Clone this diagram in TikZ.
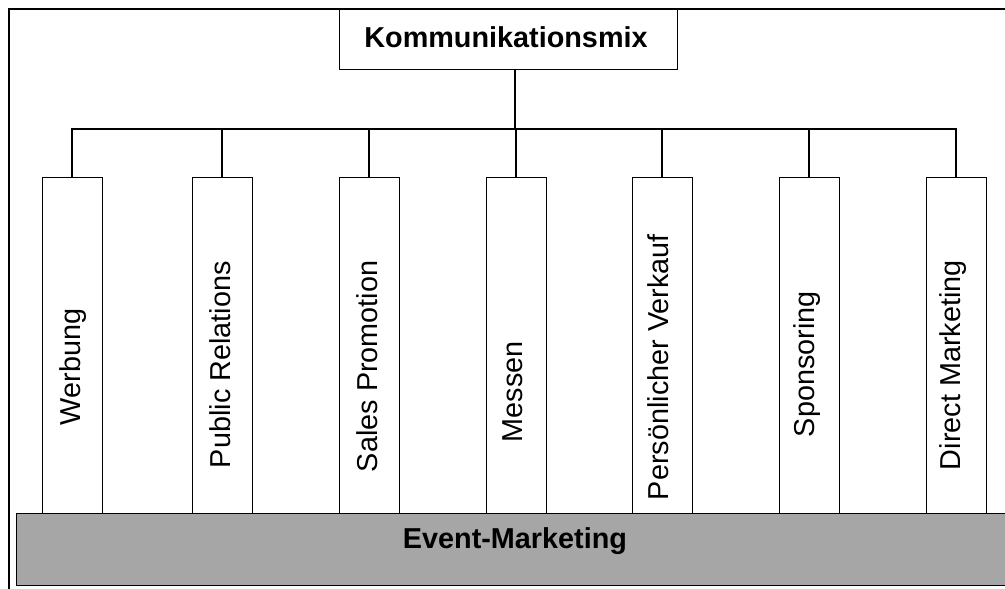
\documentclass[tikz,border=0pt]{standalone}
\usepackage{fontspec}
\setmainfont{Liberation Sans}
\definecolor{barGray}{RGB}{166,166,166}
\begin{document}
\begin{tikzpicture}[x=1pt,y=-1pt,
  box/.style={draw=black,line width=1pt,fill=white,inner sep=0pt,outer sep=0pt},
  conn/.style={draw=black,line width=1.3pt},
  framestyle/.style={draw=black,line width=1.3pt},
  txt/.style={inner sep=0pt,outer sep=0pt,font=\fontsize{28.8}{34}\selectfont},
  btxt/.style={inner sep=0pt,outer sep=0pt,font=\fontsize{28.8}{34}\selectfont\bfseries},
  vtxt/.style={txt,rotate=90,anchor=base west}]
\useasboundingbox (0,0) rectangle (1005,589);
\clip (0,0) rectangle (1005,589);
% outer frame (cut by the page at right and bottom)
\draw[framestyle] (9,640) -- (9,9) -- (1040,9);
% top box
\node[box,minimum width=338pt,minimum height=60pt] (top) at (508,39) {};
\node[btxt,anchor=base] (kl) at (506,47) {Kommunikationsmix};
% columns
\node[box,minimum width=60pt,minimum height=336pt] (c1) at (72,345) {};
\node[box,minimum width=60pt,minimum height=336pt] (c2) at (222,345) {};
\node[box,minimum width=60pt,minimum height=336pt] (c3) at (369,345) {};
\node[box,minimum width=60pt,minimum height=336pt] (c4) at (516,345) {};
\node[box,minimum width=60pt,minimum height=336pt] (c5) at (662,345) {};
\node[box,minimum width=60pt,minimum height=336pt] (c6) at (809,345) {};
\node[box,minimum width=60pt,minimum height=336pt] (c7) at (956,345) {};
% connectors
\coordinate (hub) at (515,129);
\draw[conn] (top.south -| hub) -- (hub);
\foreach \c in {c1,c2,c3,c4,c5,c6,c7}{
  \draw[conn] (\c.north) |- (hub);
}
% column labels
\node[vtxt] (l1) at (80,425) {Werbung};
\node[vtxt] (l2) at (230,468) {Public Relations};
\node[vtxt] (l3) at (377,472) {Sales Promotion};
\node[vtxt] (l4) at (522,442) {Messen};
\node[vtxt] (l5) at (668,500) {Persönlicher Verkauf};
\node[vtxt] (l6) at (814,437) {Sponsoring};
\node[vtxt] (l7) at (960,470) {Direct Marketing};
% bottom bar
\node[box,fill=barGray,minimum width=1014pt,minimum height=72pt] (bar) at (523,549) {};
\node[btxt,anchor=base] (evl) at (515,548) {Event-Marketing};
\end{tikzpicture}
\end{document}
